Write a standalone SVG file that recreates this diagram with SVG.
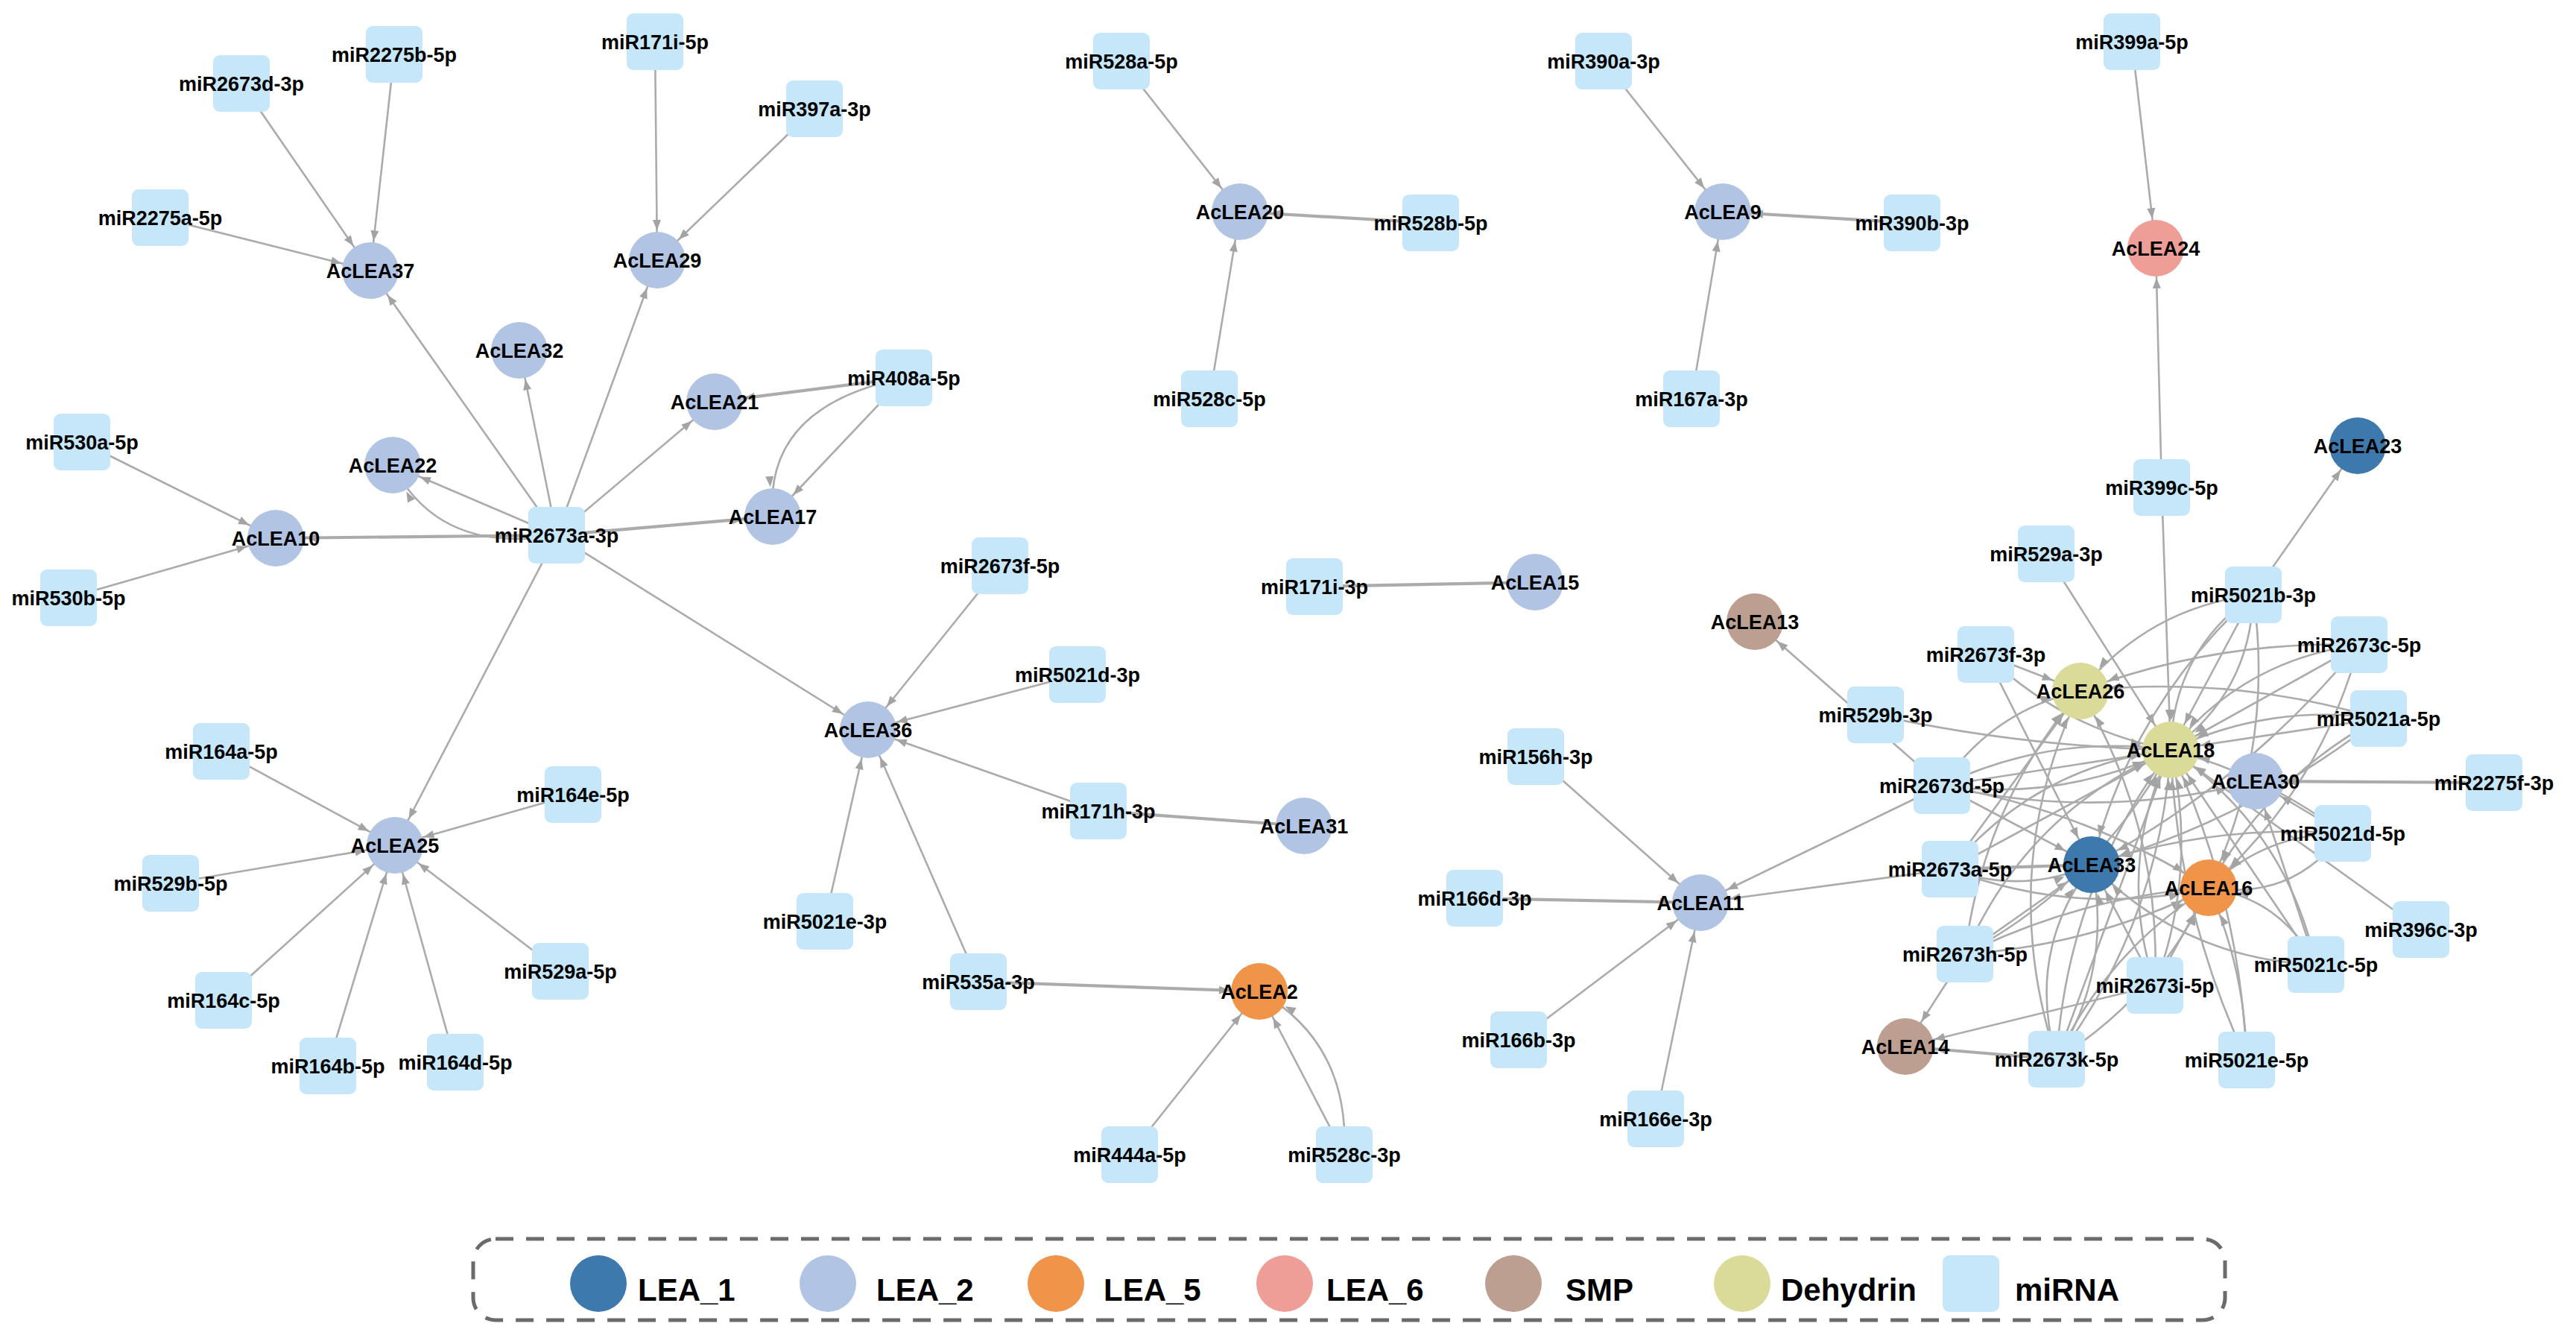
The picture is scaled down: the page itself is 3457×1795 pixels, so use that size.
<svg xmlns="http://www.w3.org/2000/svg" width="3457" height="1795" viewBox="0 0 3457 1795">
<style>
.e{fill:none;stroke:#ababab;stroke-width:2.6;marker-end:url(#ah)}
.t{stroke-width:4.2}
.l1{fill:#3e79ae}.l2{fill:#b1c4e4}.l5{fill:#ef9449}.l6{fill:#ef9e97}.smp{fill:#bd9f92}.deh{fill:#dbdb99}.mi{fill:#c6e7f9}
text{font-family:"Liberation Sans",Arial,sans-serif;font-weight:bold;fill:#000}
.n{font-size:27px;text-anchor:middle}
.lg{font-size:42px}
</style>
<defs>
<marker id="ah" markerUnits="userSpaceOnUse" orient="auto" viewBox="-60 -10 70 20" markerWidth="70" markerHeight="20" refX="0" refY="0"><path d="M-54,-5.5 L-40,0 L-54,5.5 Z" fill="#a3a3a3"/></marker>
</defs>
<rect width="3457" height="1795" fill="#fff"/>
<g id="edges">
<path class="e" d="M324,112 L497,363"/>
<path class="e" d="M529,73 L497,363"/>
<path class="e" d="M215,292 L497,363"/>
<path class="e" d="M747,718 L497,363"/>
<path class="e" d="M879,56 L882,349"/>
<path class="e" d="M1093,146 L882,349"/>
<path class="e" d="M747,718 L882,349"/>
<path class="e" d="M747,718 L697,470"/>
<path class="e" d="M747,718 L959,539"/>
<path class="e t" d="M1213,507 L959,539"/>
<path class="e" d="M1213,507 L1037,693"/>
<path class="e" d="M1213,507 Q1025,545 1037,693"/>
<path class="e" d="M747,718 L527,624"/>
<path class="e" d="M747,718 Q590,745 527,624"/>
<path class="e t" d="M747,718 L370,722"/>
<path class="e t" d="M747,718 L1037,693"/>
<path class="e" d="M110,593 L370,722"/>
<path class="e" d="M92,802 L370,722"/>
<path class="e" d="M747,718 L530,1134"/>
<path class="e" d="M747,718 L1165,979"/>
<path class="e" d="M297,1008 L530,1134"/>
<path class="e" d="M769,1066 L530,1134"/>
<path class="e" d="M229,1185 L530,1134"/>
<path class="e" d="M300,1342 L530,1134"/>
<path class="e" d="M440,1430 L530,1134"/>
<path class="e" d="M611,1425 L530,1134"/>
<path class="e" d="M752,1303 L530,1134"/>
<path class="e" d="M1342,759 L1165,979"/>
<path class="e" d="M1446,905 L1165,979"/>
<path class="e" d="M1474,1088 L1165,979"/>
<path class="e t" d="M1474,1088 L1750,1108"/>
<path class="e" d="M1107,1236 L1165,979"/>
<path class="e" d="M1313,1317 L1165,979"/>
<path class="e t" d="M1313,1317 L1690,1330"/>
<path class="e" d="M1516,1549 L1690,1330"/>
<path class="e" d="M1804,1549 L1690,1330"/>
<path class="e" d="M1804,1549 Q1812,1400 1690,1330"/>
<path class="e" d="M1505,82 L1664,284"/>
<path class="e t" d="M1920,299 L1664,284"/>
<path class="e" d="M1623,535 L1664,284"/>
<path class="e" d="M2152,82 L2312,284"/>
<path class="e t" d="M2566,299 L2312,284"/>
<path class="e" d="M2270,535 L2312,284"/>
<path class="e" d="M2861,56 L2893,333"/>
<path class="e" d="M2901,654 L2893,333"/>
<path class="e t" d="M1764,787 L2060,781"/>
<path class="e" d="M2061,1015 L2282,1211"/>
<path class="e t" d="M1979,1205 L2282,1211"/>
<path class="e" d="M2038,1395 L2282,1211"/>
<path class="e" d="M2222,1501 L2282,1211"/>
<path class="e" d="M2606,1054 L2282,1211"/>
<path class="e" d="M2617,1166 L2282,1211"/>
<path class="e" d="M2606,1054 L2355,834"/>
<path class="e" d="M3024,798 L3164,598"/>
<path class="e" d="M2901,654 L2913,1006"/>
<path class="e" d="M2746,743 L2913,1006"/>
<path class="e t" d="M3347,1050 L3027,1048"/>
<path class="e" d="M3249,1247 L2913,1006"/>
<path class="e" d="M2637,1280 L2557,1404"/>
<path class="e" d="M2892,1322 L2557,1404"/>
<path class="e t" d="M2760,1421 L2557,1404"/>
<path class="e" d="M2517,959 Q2713,1002 2913,1006"/>
<path class="e" d="M2665,878 L2792,927"/>
<path class="e" d="M2665,878 Q2770,979 2913,1006"/>
<path class="e" d="M2665,878 L2807,1160"/>
<path class="e" d="M2606,1054 Q2674,953 2792,927"/>
<path class="e" d="M2606,1054 L2913,1006"/>
<path class="e" d="M2606,1054 Q2767,1076 2913,1006"/>
<path class="e" d="M2606,1054 Q2752,984 2913,1006"/>
<path class="e" d="M2606,1054 L2807,1160"/>
<path class="e" d="M2606,1054 Q2799,1087 2964,1191"/>
<path class="e" d="M2606,1054 Q2817,1102 3027,1048"/>
<path class="e t" d="M2617,1166 L2807,1160"/>
<path class="e" d="M2617,1166 Q2713,1201 2807,1160"/>
<path class="e" d="M2617,1166 L2913,1006"/>
<path class="e" d="M2617,1166 Q2733,1027 2913,1006"/>
<path class="e" d="M2617,1166 Q2787,1231 2964,1191"/>
<path class="e" d="M2617,1166 L2792,927"/>
<path class="e" d="M2637,1280 L2807,1160"/>
<path class="e" d="M2637,1280 Q2809,1268 2964,1191"/>
<path class="e" d="M2637,1280 Q2792,1203 2964,1191"/>
<path class="e" d="M2637,1280 Q2816,1184 2913,1006"/>
<path class="e" d="M2637,1280 Q2720,1088 2913,1006"/>
<path class="e" d="M2637,1280 Q2661,1080 2792,927"/>
<path class="e" d="M2760,1421 Q2836,1299 2807,1160"/>
<path class="e" d="M2760,1421 Q2718,1278 2807,1160"/>
<path class="e" d="M2760,1421 L2913,1006"/>
<path class="e" d="M2760,1421 Q2899,1236 2913,1006"/>
<path class="e" d="M2760,1421 Q2774,1190 2913,1006"/>
<path class="e" d="M2760,1421 Q2896,1336 2964,1191"/>
<path class="e" d="M2760,1421 Q2828,1275 2964,1191"/>
<path class="e" d="M2760,1421 Q2677,1167 2792,927"/>
<path class="e" d="M2892,1322 L2807,1160"/>
<path class="e" d="M2892,1322 L2964,1191"/>
<path class="e" d="M2892,1322 Q2950,1167 2913,1006"/>
<path class="e" d="M2892,1322 Q2839,1160 2913,1006"/>
<path class="e" d="M2892,1322 Q2901,1109 2792,927"/>
<path class="e" d="M3015,1422 Q3013,1301 2964,1191"/>
<path class="e" d="M3015,1422 Q3006,1204 2913,1006"/>
<path class="e" d="M3015,1422 Q2922,1224 2913,1006"/>
<path class="e" d="M3108,1294 Q3062,1206 2964,1191"/>
<path class="e" d="M3108,1294 L2913,1006"/>
<path class="e" d="M3108,1294 Q3068,1111 2913,1006"/>
<path class="e" d="M3108,1294 L3027,1048"/>
<path class="e" d="M3108,1294 Q2931,1287 2807,1160"/>
<path class="e" d="M3144,1118 L3027,1048"/>
<path class="e" d="M3144,1118 Q3040,1039 2913,1006"/>
<path class="e" d="M3144,1118 Q3039,1118 2964,1191"/>
<path class="e" d="M3144,1118 Q3076,1209 2964,1191"/>
<path class="e" d="M3144,1118 Q2971,1105 2807,1160"/>
<path class="e" d="M3192,964 L2913,1006"/>
<path class="e" d="M3192,964 Q3046,943 2913,1006"/>
<path class="e" d="M3192,964 Q3019,1100 2807,1160"/>
<path class="e" d="M3192,964 Q3044,1043 2964,1191"/>
<path class="e" d="M3192,964 Q2996,905 2792,927"/>
<path class="e" d="M3166,865 L2913,1006"/>
<path class="e" d="M3166,865 Q3011,885 2913,1006"/>
<path class="e" d="M3166,865 Q2973,859 2792,927"/>
<path class="e" d="M3166,865 Q3016,1048 2807,1160"/>
<path class="e" d="M3166,865 Q3114,1058 2964,1191"/>
<path class="e" d="M3024,798 L2913,1006"/>
<path class="e" d="M3024,798 Q2916,874 2913,1006"/>
<path class="e" d="M3024,798 Q3020,930 2913,1006"/>
<path class="e" d="M3024,798 Q2861,946 2807,1160"/>
<path class="e" d="M3024,798 Q3053,1004 2964,1191"/>
<path class="e" d="M3024,798 Q2882,816 2792,927"/>
</g>
<g id="nodes">
<g id="AcLEA37"><circle class="l2" cx="497" cy="363" r="38"/><text class="n" x="497" y="373">AcLEA37</text></g>
<g id="AcLEA29"><circle class="l2" cx="882" cy="349" r="38"/><text class="n" x="882" y="359">AcLEA29</text></g>
<g id="AcLEA32"><circle class="l2" cx="697" cy="470" r="38"/><text class="n" x="697" y="480">AcLEA32</text></g>
<g id="AcLEA21"><circle class="l2" cx="959" cy="539" r="38"/><text class="n" x="959" y="549">AcLEA21</text></g>
<g id="AcLEA22"><circle class="l2" cx="527" cy="624" r="38"/><text class="n" x="527" y="634">AcLEA22</text></g>
<g id="AcLEA17"><circle class="l2" cx="1037" cy="693" r="38"/><text class="n" x="1037" y="703">AcLEA17</text></g>
<g id="AcLEA10"><circle class="l2" cx="370" cy="722" r="38"/><text class="n" x="370" y="732">AcLEA10</text></g>
<g id="AcLEA25"><circle class="l2" cx="530" cy="1134" r="38"/><text class="n" x="530" y="1144">AcLEA25</text></g>
<g id="AcLEA36"><circle class="l2" cx="1165" cy="979" r="38"/><text class="n" x="1165" y="989">AcLEA36</text></g>
<g id="AcLEA31"><circle class="l2" cx="1750" cy="1108" r="38"/><text class="n" x="1750" y="1118">AcLEA31</text></g>
<g id="AcLEA2"><circle class="l5" cx="1690" cy="1330" r="38"/><text class="n" x="1690" y="1340">AcLEA2</text></g>
<g id="AcLEA20"><circle class="l2" cx="1664" cy="284" r="38"/><text class="n" x="1664" y="294">AcLEA20</text></g>
<g id="AcLEA9"><circle class="l2" cx="2312" cy="284" r="38"/><text class="n" x="2312" y="294">AcLEA9</text></g>
<g id="AcLEA24"><circle class="l6" cx="2893" cy="333" r="38"/><text class="n" x="2893" y="343">AcLEA24</text></g>
<g id="AcLEA23"><circle class="l1" cx="3164" cy="598" r="38"/><text class="n" x="3164" y="608">AcLEA23</text></g>
<g id="AcLEA15"><circle class="l2" cx="2060" cy="781" r="38"/><text class="n" x="2060" y="791">AcLEA15</text></g>
<g id="AcLEA11"><circle class="l2" cx="2282" cy="1211" r="38"/><text class="n" x="2282" y="1221">AcLEA11</text></g>
<g id="AcLEA13"><circle class="smp" cx="2355" cy="834" r="38"/><text class="n" x="2355" y="844">AcLEA13</text></g>
<g id="AcLEA14"><circle class="smp" cx="2557" cy="1404" r="38"/><text class="n" x="2557" y="1414">AcLEA14</text></g>
<g id="AcLEA26"><circle class="deh" cx="2792" cy="927" r="38"/><text class="n" x="2792" y="937">AcLEA26</text></g>
<g id="AcLEA18"><circle class="deh" cx="2913" cy="1006" r="38"/><text class="n" x="2913" y="1016">AcLEA18</text></g>
<g id="AcLEA30"><circle class="l2" cx="3027" cy="1048" r="38"/><text class="n" x="3027" y="1058">AcLEA30</text></g>
<g id="AcLEA33"><circle class="l1" cx="2807" cy="1160" r="38"/><text class="n" x="2807" y="1170">AcLEA33</text></g>
<g id="AcLEA16"><circle class="l5" cx="2964" cy="1191" r="38"/><text class="n" x="2964" y="1201">AcLEA16</text></g>
<g id="miR2275b-5p"><rect class="mi" x="491" y="35" width="76" height="76" rx="9"/><text class="n" x="529" y="83">miR2275b-5p</text></g>
<g id="miR2673d-3p"><rect class="mi" x="286" y="74" width="76" height="76" rx="9"/><text class="n" x="324" y="122">miR2673d-3p</text></g>
<g id="miR171i-5p"><rect class="mi" x="841" y="18" width="76" height="76" rx="9"/><text class="n" x="879" y="66">miR171i-5p</text></g>
<g id="miR397a-3p"><rect class="mi" x="1055" y="108" width="76" height="76" rx="9"/><text class="n" x="1093" y="156">miR397a-3p</text></g>
<g id="miR2275a-5p"><rect class="mi" x="177" y="254" width="76" height="76" rx="9"/><text class="n" x="215" y="302">miR2275a-5p</text></g>
<g id="miR408a-5p"><rect class="mi" x="1175" y="469" width="76" height="76" rx="9"/><text class="n" x="1213" y="517">miR408a-5p</text></g>
<g id="miR2673a-3p"><rect class="mi" x="709" y="680" width="76" height="76" rx="9"/><text class="n" x="747" y="728">miR2673a-3p</text></g>
<g id="miR530a-5p"><rect class="mi" x="72" y="555" width="76" height="76" rx="9"/><text class="n" x="110" y="603">miR530a-5p</text></g>
<g id="miR530b-5p"><rect class="mi" x="54" y="764" width="76" height="76" rx="9"/><text class="n" x="92" y="812">miR530b-5p</text></g>
<g id="miR164a-5p"><rect class="mi" x="259" y="970" width="76" height="76" rx="9"/><text class="n" x="297" y="1018">miR164a-5p</text></g>
<g id="miR164e-5p"><rect class="mi" x="731" y="1028" width="76" height="76" rx="9"/><text class="n" x="769" y="1076">miR164e-5p</text></g>
<g id="miR529b-5p"><rect class="mi" x="191" y="1147" width="76" height="76" rx="9"/><text class="n" x="229" y="1195">miR529b-5p</text></g>
<g id="miR164c-5p"><rect class="mi" x="262" y="1304" width="76" height="76" rx="9"/><text class="n" x="300" y="1352">miR164c-5p</text></g>
<g id="miR529a-5p"><rect class="mi" x="714" y="1265" width="76" height="76" rx="9"/><text class="n" x="752" y="1313">miR529a-5p</text></g>
<g id="miR164b-5p"><rect class="mi" x="402" y="1392" width="76" height="76" rx="9"/><text class="n" x="440" y="1440">miR164b-5p</text></g>
<g id="miR164d-5p"><rect class="mi" x="573" y="1387" width="76" height="76" rx="9"/><text class="n" x="611" y="1435">miR164d-5p</text></g>
<g id="miR5021e-3p"><rect class="mi" x="1069" y="1198" width="76" height="76" rx="9"/><text class="n" x="1107" y="1246">miR5021e-3p</text></g>
<g id="miR2673f-5p"><rect class="mi" x="1304" y="721" width="76" height="76" rx="9"/><text class="n" x="1342" y="769">miR2673f-5p</text></g>
<g id="miR5021d-3p"><rect class="mi" x="1408" y="867" width="76" height="76" rx="9"/><text class="n" x="1446" y="915">miR5021d-3p</text></g>
<g id="miR171h-3p"><rect class="mi" x="1436" y="1050" width="76" height="76" rx="9"/><text class="n" x="1474" y="1098">miR171h-3p</text></g>
<g id="miR535a-3p"><rect class="mi" x="1275" y="1279" width="76" height="76" rx="9"/><text class="n" x="1313" y="1327">miR535a-3p</text></g>
<g id="miR444a-5p"><rect class="mi" x="1478" y="1511" width="76" height="76" rx="9"/><text class="n" x="1516" y="1559">miR444a-5p</text></g>
<g id="miR528c-3p"><rect class="mi" x="1766" y="1511" width="76" height="76" rx="9"/><text class="n" x="1804" y="1559">miR528c-3p</text></g>
<g id="miR528a-5p"><rect class="mi" x="1467" y="44" width="76" height="76" rx="9"/><text class="n" x="1505" y="92">miR528a-5p</text></g>
<g id="miR528b-5p"><rect class="mi" x="1882" y="261" width="76" height="76" rx="9"/><text class="n" x="1920" y="309">miR528b-5p</text></g>
<g id="miR528c-5p"><rect class="mi" x="1585" y="497" width="76" height="76" rx="9"/><text class="n" x="1623" y="545">miR528c-5p</text></g>
<g id="miR390a-3p"><rect class="mi" x="2114" y="44" width="76" height="76" rx="9"/><text class="n" x="2152" y="92">miR390a-3p</text></g>
<g id="miR390b-3p"><rect class="mi" x="2528" y="261" width="76" height="76" rx="9"/><text class="n" x="2566" y="309">miR390b-3p</text></g>
<g id="miR167a-3p"><rect class="mi" x="2232" y="497" width="76" height="76" rx="9"/><text class="n" x="2270" y="545">miR167a-3p</text></g>
<g id="miR399a-5p"><rect class="mi" x="2823" y="18" width="76" height="76" rx="9"/><text class="n" x="2861" y="66">miR399a-5p</text></g>
<g id="miR399c-5p"><rect class="mi" x="2863" y="616" width="76" height="76" rx="9"/><text class="n" x="2901" y="664">miR399c-5p</text></g>
<g id="miR171i-3p"><rect class="mi" x="1726" y="749" width="76" height="76" rx="9"/><text class="n" x="1764" y="797">miR171i-3p</text></g>
<g id="miR156h-3p"><rect class="mi" x="2023" y="977" width="76" height="76" rx="9"/><text class="n" x="2061" y="1025">miR156h-3p</text></g>
<g id="miR166d-3p"><rect class="mi" x="1941" y="1167" width="76" height="76" rx="9"/><text class="n" x="1979" y="1215">miR166d-3p</text></g>
<g id="miR166b-3p"><rect class="mi" x="2000" y="1357" width="76" height="76" rx="9"/><text class="n" x="2038" y="1405">miR166b-3p</text></g>
<g id="miR166e-3p"><rect class="mi" x="2184" y="1463" width="76" height="76" rx="9"/><text class="n" x="2222" y="1511">miR166e-3p</text></g>
<g id="miR529a-3p"><rect class="mi" x="2708" y="705" width="76" height="76" rx="9"/><text class="n" x="2746" y="753">miR529a-3p</text></g>
<g id="miR2673f-3p"><rect class="mi" x="2627" y="840" width="76" height="76" rx="9"/><text class="n" x="2665" y="888">miR2673f-3p</text></g>
<g id="miR529b-3p"><rect class="mi" x="2479" y="921" width="76" height="76" rx="9"/><text class="n" x="2517" y="969">miR529b-3p</text></g>
<g id="miR2673d-5p"><rect class="mi" x="2568" y="1016" width="76" height="76" rx="9"/><text class="n" x="2606" y="1064">miR2673d-5p</text></g>
<g id="miR5021b-3p"><rect class="mi" x="2986" y="760" width="76" height="76" rx="9"/><text class="n" x="3024" y="808">miR5021b-3p</text></g>
<g id="miR2673c-5p"><rect class="mi" x="3128" y="827" width="76" height="76" rx="9"/><text class="n" x="3166" y="875">miR2673c-5p</text></g>
<g id="miR5021a-5p"><rect class="mi" x="3154" y="926" width="76" height="76" rx="9"/><text class="n" x="3192" y="974">miR5021a-5p</text></g>
<g id="miR2275f-3p"><rect class="mi" x="3309" y="1012" width="76" height="76" rx="9"/><text class="n" x="3347" y="1060">miR2275f-3p</text></g>
<g id="miR5021d-5p"><rect class="mi" x="3106" y="1080" width="76" height="76" rx="9"/><text class="n" x="3144" y="1128">miR5021d-5p</text></g>
<g id="miR2673a-5p"><rect class="mi" x="2579" y="1128" width="76" height="76" rx="9"/><text class="n" x="2617" y="1176">miR2673a-5p</text></g>
<g id="miR396c-3p"><rect class="mi" x="3211" y="1209" width="76" height="76" rx="9"/><text class="n" x="3249" y="1257">miR396c-3p</text></g>
<g id="miR2673h-5p"><rect class="mi" x="2599" y="1242" width="76" height="76" rx="9"/><text class="n" x="2637" y="1290">miR2673h-5p</text></g>
<g id="miR5021c-5p"><rect class="mi" x="3070" y="1256" width="76" height="76" rx="9"/><text class="n" x="3108" y="1304">miR5021c-5p</text></g>
<g id="miR2673i-5p"><rect class="mi" x="2854" y="1284" width="76" height="76" rx="9"/><text class="n" x="2892" y="1332">miR2673i-5p</text></g>
<g id="miR2673k-5p"><rect class="mi" x="2722" y="1383" width="76" height="76" rx="9"/><text class="n" x="2760" y="1431">miR2673k-5p</text></g>
<g id="miR5021e-5p"><rect class="mi" x="2977" y="1384" width="76" height="76" rx="9"/><text class="n" x="3015" y="1432">miR5021e-5p</text></g>
</g>
<g id="legend">
<rect x="635" y="1662" width="2351" height="109" rx="30" fill="none" stroke="#6b6b6b" stroke-width="5" stroke-dasharray="24 17"/>
<circle class="l1" cx="803" cy="1722" r="38"/><text class="lg" x="856" y="1745">LEA_1</text>
<circle class="l2" cx="1111" cy="1722" r="38"/><text class="lg" x="1176" y="1745">LEA_2</text>
<circle class="l5" cx="1417" cy="1722" r="38"/><text class="lg" x="1481" y="1745">LEA_5</text>
<circle class="l6" cx="1724" cy="1722" r="38"/><text class="lg" x="1780" y="1745">LEA_6</text>
<circle class="smp" cx="2031" cy="1722" r="38"/><text class="lg" x="2101" y="1745">SMP</text>
<circle class="deh" cx="2338" cy="1722" r="38"/><text class="lg" x="2390" y="1745">Dehydrin</text>
<rect class="mi" x="2607" y="1684" width="76" height="76" rx="9"/><text class="lg" x="2704" y="1745">miRNA</text>
</g>
</svg>
